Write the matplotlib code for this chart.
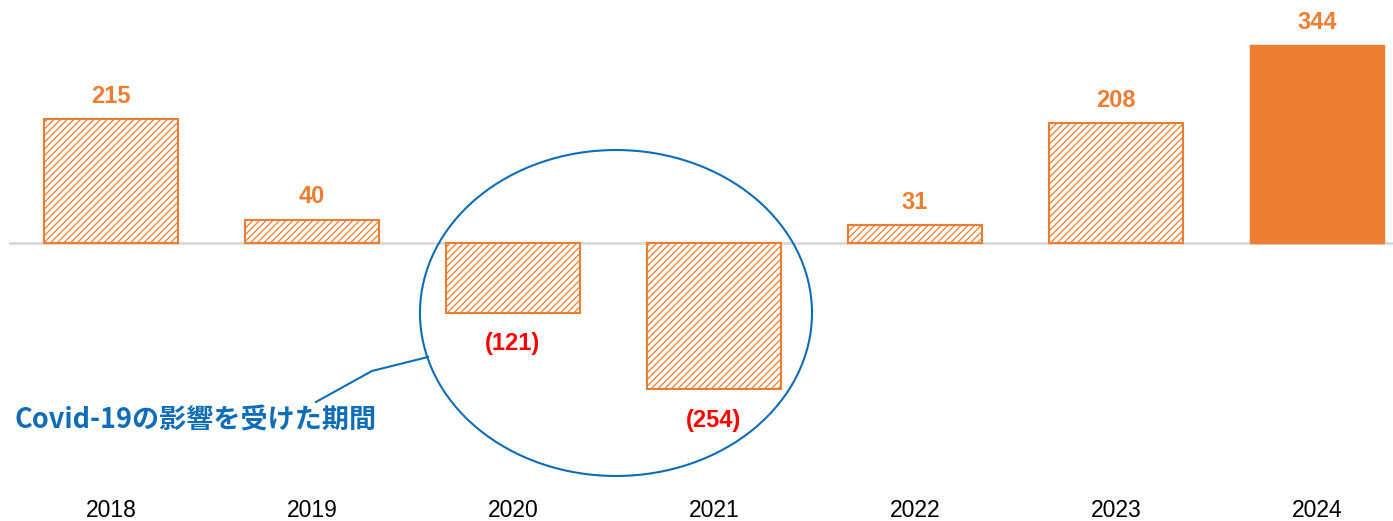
import matplotlib
matplotlib.use("Agg")
import matplotlib.pyplot as plt
from matplotlib.patches import Ellipse

years = ["2018", "2019", "2020", "2021", "2022", "2023", "2024"]
values = [215, 40, -121, -254, 31, 208, 344]
labels = ["215", "40", "(121)", "(254)", "31", "208", "344"]
hatched = [True, True, True, True, True, True, False]
note = "Covid-19の影響を受けた期間"

ORANGE = "#ED7D31"
RED = "#FF0000"
BLUE = "#0F6DB8"

plt.rcParams["hatch.linewidth"] = 0.9

fig = plt.figure(figsize=(13.93, 5.21), dpi=100)
ax = fig.add_axes([0, 0, 1, 1])
ax.set_xlim(-0.552, 6.378)
ax.set_ylim(-483, 422.2)
ax.axis("off")

x = list(range(len(years)))
ax.plot([-0.502, 6.378], [0, 0], color="#D9D9D9", lw=2, zorder=1)

for xi, v, h in zip(x, values, hatched):
    if h:
        ax.bar(xi, v, width=0.667, facecolor="white", edgecolor=ORANGE,
               hatch="/////", linewidth=1.5, zorder=2)
    else:
        ax.bar(xi, v, width=0.667, color=ORANGE, edgecolor=ORANGE,
               linewidth=1, zorder=2)

for xi, v, lab in zip(x, values, labels):
    if v >= 0:
        ax.text(xi, v + 23 / 0.5756, lab, ha="center", va="center",
                fontsize=17, fontweight="bold", color=ORANGE,
                family="Liberation Sans")
    else:
        ax.text(xi, v - 31 / 0.5756, lab, ha="center", va="center",
                fontsize=17, fontweight="bold", color=RED,
                family="Liberation Sans")

for xi, yr in zip(x, years):
    ax.text(xi, -464, yr, ha="center", va="center", fontsize=16.5,
            color="black", family="Liberation Sans")

def px2x(px):
    return (px - 111) / 201.0

def py2y(py):
    return (243 - py) / 0.5756

ell = Ellipse((px2x(616), py2y(313)), width=392 / 201.0, height=326 / 0.5756,
              fill=False, edgecolor=BLUE, lw=1.5, zorder=3)
ax.add_patch(ell)
ax.plot([px2x(316), px2x(372), px2x(428)], [py2y(402), py2y(371), py2y(357)],
        color=BLUE, lw=1.5, zorder=3)
ax.text(px2x(15), py2y(420), note, ha="left", va="center", fontsize=19.5,
        fontweight="bold", color=BLUE,
        family=["Noto Sans CJK JP", "DejaVu Sans"])

fig.savefig("out.png", dpi=100)
